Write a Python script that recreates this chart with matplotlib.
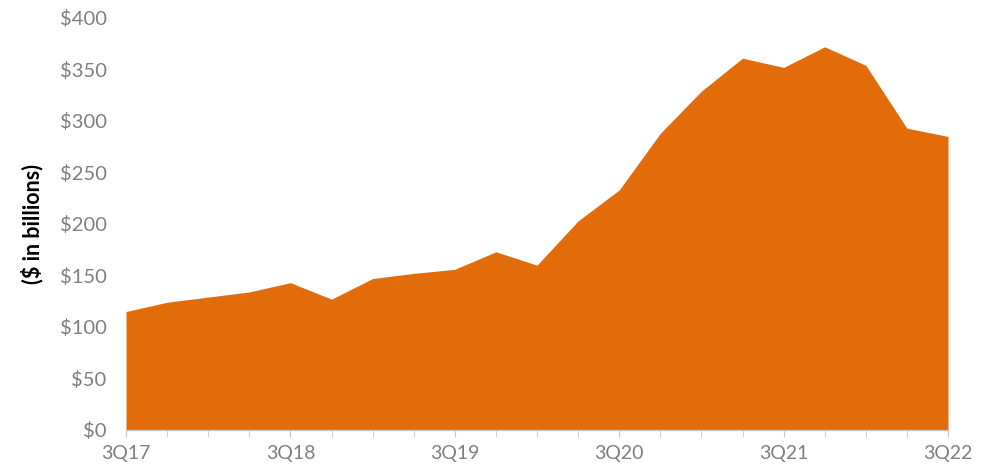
import matplotlib
matplotlib.use("Agg")
import matplotlib.pyplot as plt
from matplotlib.ticker import FixedLocator, FuncFormatter

quarters = ["3Q17", "4Q17", "1Q18", "2Q18", "3Q18", "4Q18", "1Q19", "2Q19", "3Q19",
            "4Q19", "1Q20", "2Q20", "3Q20", "4Q20", "1Q21", "2Q21", "3Q21", "4Q21",
            "1Q22", "2Q22", "3Q22"]
values = [115, 124, 129, 134, 143, 127, 147, 152, 156, 173, 160, 203, 233, 288,
          329, 361, 352, 372, 354, 293, 285]
yticks = [0, 50, 100, 150, 200, 250, 300, 350, 400]

plt.rcParams["font.family"] = ["Lato", "DejaVu Sans"]

fig = plt.figure(figsize=(10, 4.73), dpi=100)
ax = fig.add_axes([0.126, 0.091, 0.822, 0.871])

x = list(range(len(quarters)))
ax.fill_between(x, values, 0, color="#E36C0A", linewidth=0)

ax.set_xlim(0, len(quarters) - 1)
ax.set_ylim(0, 400)
ax.set_yticks(yticks)
ax.yaxis.set_major_formatter(FuncFormatter(lambda v, p: f"${v:.0f}"))
ax.set_xticks(x[::4])
ax.set_xticklabels(quarters[::4])
ax.xaxis.set_minor_locator(FixedLocator(x))

for s in ["top", "right", "left"]:
    ax.spines[s].set_visible(False)
ax.spines["bottom"].set_color("#c8c8c8")
ax.spines["bottom"].set_linewidth(1)

ax.tick_params(axis="y", length=0, pad=14, labelsize=14.5, labelcolor="#7f7f7f")
ax.tick_params(axis="x", which="both", length=5, color="#c8c8c8", pad=6,
               labelsize=14, labelcolor="#7f7f7f")

ax.set_ylabel("($ in billions)", fontsize=15.5, fontweight="bold", color="black", labelpad=12)

fig.savefig("out.png", dpi=100)
